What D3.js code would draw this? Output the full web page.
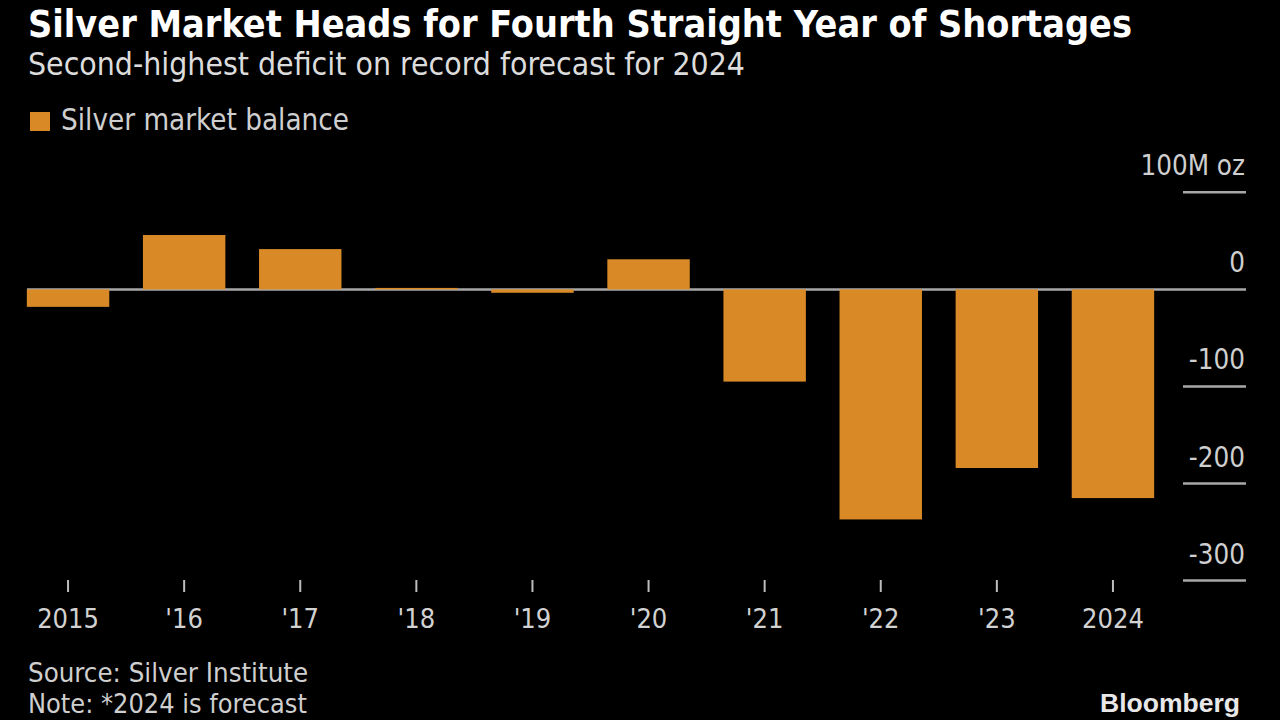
<!DOCTYPE html>
<html>
<head>
<meta charset="utf-8">
<script src="https://cdn.jsdelivr.net/npm/d3@7"></script>
<style>
  html, body { margin: 0; padding: 0; background: #000; }
  svg { display: block; }
  .cond { font-family: "DejaVu Sans Condensed", "DejaVu Sans", sans-serif; font-stretch: condensed; }
</style>
</head>
<body>
<script>
// ---- data ----
const categories = ["2015", "2016", "2017", "2018", "2019", "2020", "2021", "2022", "2023", "2024"];
const tickLabels = ["2015", "'16", "'17", "'18", "'19", "'20", "'21", "'22", "'23", "2024"];
const balance = [-18, 56, 41.5, 1.5, -3.5, 31, -95, -237, -184, -215];
const yTicks = [100, 0, -100, -200, -300];
const yTickLabels = ["100M oz", "0", "-100", "-200", "-300"];
const seriesName = "Silver market balance";

const W = 1280, H = 720;
const barColor = "#d98a27";

const svg = d3.select("body").append("svg").attr("width", W).attr("height", H);
svg.append("rect").attr("width", W).attr("height", H).attr("fill", "#000");

function fitText(sel, target) {
  const node = sel.node();
  let fs = parseFloat(sel.attr("font-size"));
  for (let i = 0; i < 4; i++) {
    const w = node.getComputedTextLength();
    if (w > 0) { fs = fs * target / w; sel.attr("font-size", fs); }
  }
  return sel;
}

// ---- title / subtitle ----
fitText(svg.append("text").attr("class", "cond").attr("x", 28).attr("y", 37)
  .attr("font-size", 32).attr("font-weight", "bold").attr("fill", "#ffffff")
  .text("Silver Market Heads for Fourth Straight Year of Shortages"), 1104);
fitText(svg.append("text").attr("class", "cond").attr("x", 28).attr("y", 75)
  .attr("font-size", 27).attr("fill", "#dcdcdc")
  .text("Second-highest deficit on record forecast for 2024"), 717);

// ---- legend ----
svg.append("rect").attr("x", 30).attr("y", 112).attr("width", 20).attr("height", 19).attr("fill", barColor);
fitText(svg.append("text").attr("class", "cond").attr("x", 61).attr("y", 130)
  .attr("font-size", 25).attr("fill", "#cfcfcf").text(seriesName), 288);

// ---- scales ----
const x = d3.scaleBand().domain(categories).range([10, 1171]).paddingInner(0.29).paddingOuter(0.145);
const y = d3.scaleLinear().domain([-300, 100]).range([580.6, 192.3]);

// ---- gridlines (right side, under labels) ----
const grid = svg.append("g");
yTicks.forEach((t, i) => {
  if (t === 0) {
    grid.append("line").attr("x1", 27).attr("x2", 1246).attr("y1", y(0)).attr("y2", y(0))
      .attr("stroke", "#a8a8a8").attr("stroke-width", 2.5);
  } else {
    grid.append("line").attr("x1", 1183).attr("x2", 1246).attr("y1", y(t)).attr("y2", y(t))
      .attr("stroke", "#a8a8a8").attr("stroke-width", 2.5);
  }
});

// ---- bars ----
svg.append("g").selectAll("rect").data(categories).join("rect")
  .attr("x", d => x(d))
  .attr("width", x.bandwidth())
  .attr("y", (d, i) => Math.min(y(balance[i]), y(0)))
  .attr("height", (d, i) => Math.max(1.5, Math.abs(y(balance[i]) - y(0))))
  .attr("fill", barColor);

// ---- y labels ----
const yl = svg.append("g");
yTicks.forEach((t, i) => {
  yl.append("text").attr("class", "cond").attr("x", 1245).attr("y", y(t) - 17)
    .attr("text-anchor", "end").attr("font-size", 27.5).attr("fill", "#cfcfcf")
    .text(yTickLabels[i]);
});

// ---- x axis ticks & labels ----
const xa = svg.append("g");
categories.forEach((c, i) => {
  const cx = x(c) + x.bandwidth() / 2;
  xa.append("line").attr("x1", cx).attr("x2", cx).attr("y1", 580).attr("y2", 592)
    .attr("stroke", "#bdbdbd").attr("stroke-width", 2);
  xa.append("text").attr("class", "cond").attr("x", cx).attr("y", 628)
    .attr("text-anchor", "middle").attr("font-size", 27).attr("fill", "#d2d2d2")
    .text(tickLabels[i]);
});

// ---- footer ----
fitText(svg.append("text").attr("class", "cond").attr("x", 28).attr("y", 682)
  .attr("font-size", 25).attr("fill", "#cfcfcf").text("Source: Silver Institute"), 280);
fitText(svg.append("text").attr("class", "cond").attr("x", 28).attr("y", 713)
  .attr("font-size", 25).attr("fill", "#cfcfcf").text("Note: *2024 is forecast"), 279);
fitText(svg.append("text").attr("x", 1100).attr("y", 712)
  .attr("font-family", "'Liberation Sans', Arial, sans-serif").attr("font-weight", "bold")
  .attr("font-size", 26).attr("fill", "#e8e8e8").text("Bloomberg"), 140);
</script>
</body>
</html>
